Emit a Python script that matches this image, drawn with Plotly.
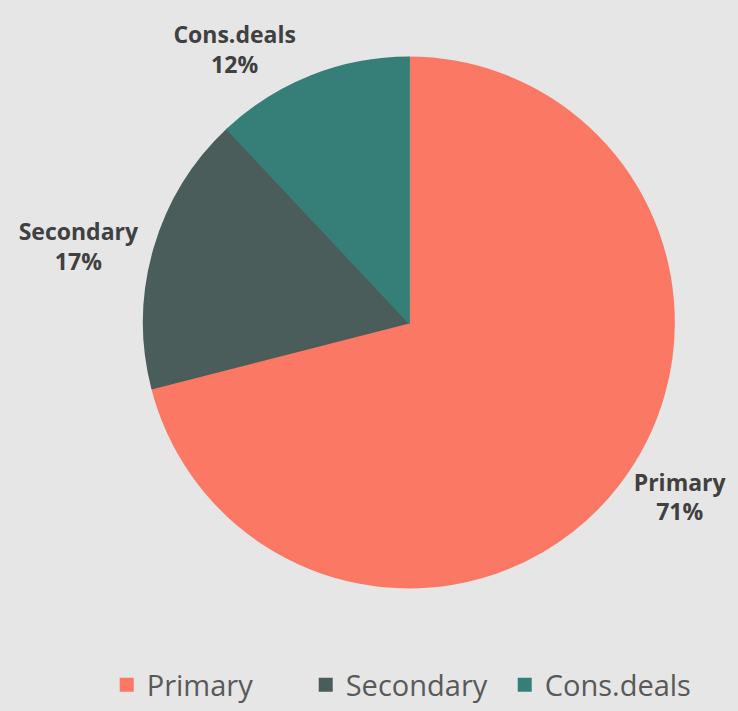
import plotly.graph_objects as go

labels = ["Primary", "Secondary", "Cons.deals"]
values = [71, 17, 12]
colors = ["#FA7864", "#4A5D5A", "#367F79"]

FONT = "Open Sans, Noto Sans, sans-serif"
W, H = 738, 711

fig = go.Figure(go.Pie(
    labels=labels,
    values=values,
    sort=False,
    direction="clockwise",
    rotation=0,
    domain=dict(x=[140.5 / W, 679.5 / W], y=[1 - 597.5 / H, 1 - 58.5 / H]),
    marker=dict(colors=colors, line=dict(width=2, color=colors)),
    textposition="outside",
    texttemplate="<b>%{label}</b><br><b>%{percent:.0%}</b>",
    outsidetextfont=dict(family=FONT, size=23, color="#404040"),
    hoverinfo="label+percent",
))

fig.update_layout(
    width=W, height=H,
    paper_bgcolor="#E6E6E6",
    plot_bgcolor="#E6E6E6",
    margin=dict(l=0, r=0, t=0, b=0),
    showlegend=True,
    legend=dict(
        orientation="h",
        x=0.145, xanchor="left",
        y=0.020, yanchor="middle",
        font=dict(family=FONT, size=29, color="#595959"),
        traceorder="normal",
        itemwidth=30,
        entrywidth=154,
        entrywidthmode="pixels",
    ),
)

fig.write_html(
    "out.html",
    config={"displayModeBar": False},
    post_script="document.body.style.margin='0';document.body.style.background='#E6E6E6';",
)
